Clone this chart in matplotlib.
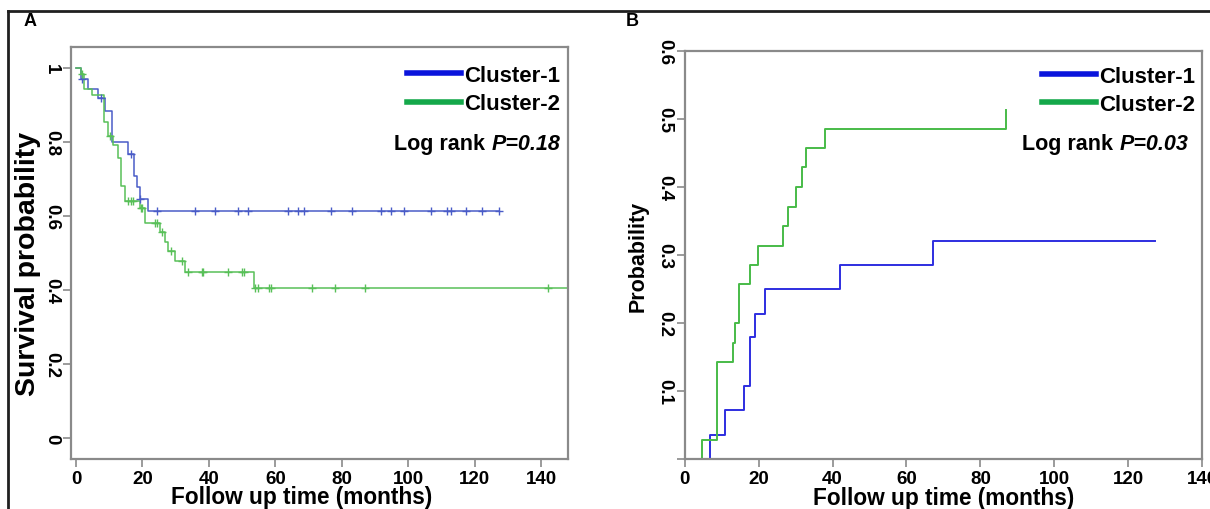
import numpy as np
import matplotlib
matplotlib.use("Agg")
import matplotlib.pyplot as plt
from matplotlib.lines import Line2D

plt.rcParams['font.family'] = ['Liberation Sans', 'DejaVu Sans']

# ---- Panel A: Kaplan-Meier survival (step times / survival after step) ----
a_c1_times = [0, 1.4, 3.7, 6.7, 8.7, 10.7, 15.7, 17.4, 18.4, 19.2, 21.8, 127.1]
a_c1_surv = [1.0, 0.970, 0.943, 0.918, 0.885, 0.799, 0.768, 0.707, 0.678, 0.646, 0.613, 0.613]
a_c1_cens_t = [1.7, 7.4, 16.4, 19.4, 24.3, 35.8, 41.8, 48.7, 51.7, 63.8, 66.8, 68.6,
               76.7, 83.0, 91.7, 94.7, 98.6, 106.8, 111.6, 112.8, 117.3, 122.1, 127.1]

a_c2_times = [0, 1.4, 2.4, 4.7, 8.4, 9.7, 11.0, 12.7, 13.5, 14.7, 19.2, 20.8, 25.3,
              26.8, 27.8, 29.8, 32.8, 53.5, 148]
a_c2_surv = [1.0, 0.984, 0.943, 0.927, 0.853, 0.815, 0.792, 0.757, 0.680, 0.641, 0.621,
             0.580, 0.556, 0.531, 0.506, 0.479, 0.449, 0.404, 0.404]
a_c2_cens_t = [1.7, 10.2, 15.7, 16.4, 17.0, 19.5, 20.0, 23.8, 24.5, 25.8, 28.6, 31.8,
               33.8, 37.8, 38.3, 45.8, 49.8, 50.6, 53.9, 54.6, 58.0, 58.8, 70.9,
               78.0, 87.0, 141.9]

# ---- Panel B: cumulative probability ----
b_c1_times = [0, 6.8, 10.8, 16.0, 17.7, 18.9, 21.8, 42.1, 67.2, 127.2]
b_c1_prob = [0, 0.0357, 0.0714, 0.107, 0.179, 0.214, 0.250, 0.286, 0.321, 0.321]
b_c2_times = [0, 4.7, 8.6, 13.1, 13.7, 14.7, 17.7, 19.9, 26.6, 28.0, 30.0, 31.8,
              32.9, 38.0, 87.0, 87.0]
b_c2_prob = [0, 0.0286, 0.143, 0.171, 0.200, 0.257, 0.286, 0.314, 0.343, 0.371,
             0.400, 0.429, 0.457, 0.486, 0.486, 0.514]

labels = ['Cluster-1', 'Cluster-2']
x_ticks = [0, 20, 40, 60, 80, 100, 120, 140]
a_yticks = [0, 0.2, 0.4, 0.6, 0.8, 1.0]
a_ytick_labels = ['0', '0.2', '0.4', '0.6', '0.8', '1']
b_yticks = [0, 0.1, 0.2, 0.3, 0.4, 0.5, 0.6]
b_ytick_labels = ['', '0.1', '0.2', '0.3', '0.4', '0.5', '0.6']

leg_blue, leg_green = '#0a14dc', '#14a84a'
a_blue, a_green = '#4a5cc8', '#58c058'
b_blue, b_green = '#2e2ee0', '#48bb48'
spine_gray = '#8a8a8a'


def surv_at(times, vals, t):
    idx = np.searchsorted(times, t, side='right') - 1
    return np.asarray(vals)[idx]


def style_axes(ax):
    for s in ax.spines.values():
        s.set_color(spine_gray)
        s.set_linewidth(1.6)
    ax.tick_params(direction='out', length=6, width=1.2, color=spine_gray,
                   labelsize=13.5, pad=2)
    for lab in ax.get_xticklabels() + ax.get_yticklabels():
        lab.set_fontweight('bold')
    for lab in ax.get_yticklabels():
        lab.set_rotation(-90)
        lab.set_va('center')


def add_legend(ax, pval, leg_x, leg_y, p_x, p_y):
    handles = [Line2D([], [], color=leg_blue, lw=4),
               Line2D([], [], color=leg_green, lw=4)]
    ax.legend(handles, labels, loc='upper right', bbox_to_anchor=(leg_x, leg_y),
              frameon=False, handlelength=2.45, handletextpad=0.12,
              labelspacing=0.33, borderpad=0.0, borderaxespad=0.0,
              prop={'weight': 'bold', 'size': 16})
    t = ax.text(p_x, p_y, pval, transform=ax.transAxes, ha='right', va='bottom',
                fontsize=15.5, fontweight='bold', fontstyle='italic')
    ax.annotate('Log rank ', xy=(0, 0), xycoords=t, ha='right', va='bottom',
                fontsize=15.5, fontweight='bold')


fig = plt.figure(figsize=(12.1, 5.1), dpi=100)
axA = fig.add_axes([0.0587, 0.098, 0.4107, 0.808])
axB = fig.add_axes([0.566, 0.098, 0.4274, 0.7995])

# Panel A
axA.step(a_c1_times, a_c1_surv, where='post', color=a_blue, lw=1.1)
axA.step(a_c2_times, a_c2_surv, where='post', color=a_green, lw=1.1)
axA.plot(a_c1_cens_t, surv_at(a_c1_times, a_c1_surv, a_c1_cens_t), ls='none',
         marker='+', ms=6, mew=1.0, color=a_blue)
axA.plot(a_c2_cens_t, surv_at(a_c2_times, a_c2_surv, a_c2_cens_t), ls='none',
         marker='+', ms=6, mew=1.0, color=a_green)
axA.set_xlim(-1.5, 148)
axA.set_ylim(-0.057, 1.057)
axA.set_xticks(x_ticks)
axA.set_yticks(a_yticks)
axA.set_yticklabels(a_ytick_labels)
style_axes(axA)
axA.set_ylabel('Survival probability', fontsize=20.5, fontweight='bold')
axA.yaxis.set_label_coords(-0.061, 0.476)
axA.set_xlabel('Follow up time (months)', fontsize=16.3, fontweight='bold')
axA.xaxis.set_label_coords(0.465, -0.064)
add_legend(axA, 'P=0.18', 0.984, 0.956, 0.984, 0.740)

# Panel B
axB.step(b_c1_times, b_c1_prob, where='post', color=b_blue, lw=1.4)
axB.step(b_c2_times, b_c2_prob, where='post', color=b_green, lw=1.4)
axB.set_xlim(0, 140)
axB.set_ylim(0, 0.6)
axB.set_xticks(x_ticks)
axB.set_yticks(b_yticks)
axB.set_yticklabels(b_ytick_labels)
style_axes(axB)
axB.set_ylabel('Probability', fontsize=15.5, fontweight='bold')
axB.yaxis.set_label_coords(-0.07, 0.5)
axB.set_xlabel('Follow up time (months)', fontsize=16.3, fontweight='bold')
axB.xaxis.set_label_coords(0.5, -0.066)
add_legend(axB, 'P=0.03', 0.986, 0.965, 0.973, 0.748)

# panel letters and frame
fig.text(30 / 1210, 1 - 22 / 510, 'A', fontsize=13, fontweight='bold', ha='center', va='center')
fig.text(632 / 1210, 1 - 22 / 510, 'B', fontsize=13, fontweight='bold', ha='center', va='center')
fig.add_artist(Line2D([8 / 1210, 1], [1 - 12 / 510, 1 - 12 / 510], color='#202020', lw=2))
fig.add_artist(Line2D([8 / 1210, 8 / 1210], [0, 1 - 12 / 510], color='#202020', lw=2))

fig.savefig('out.png', dpi=100)
